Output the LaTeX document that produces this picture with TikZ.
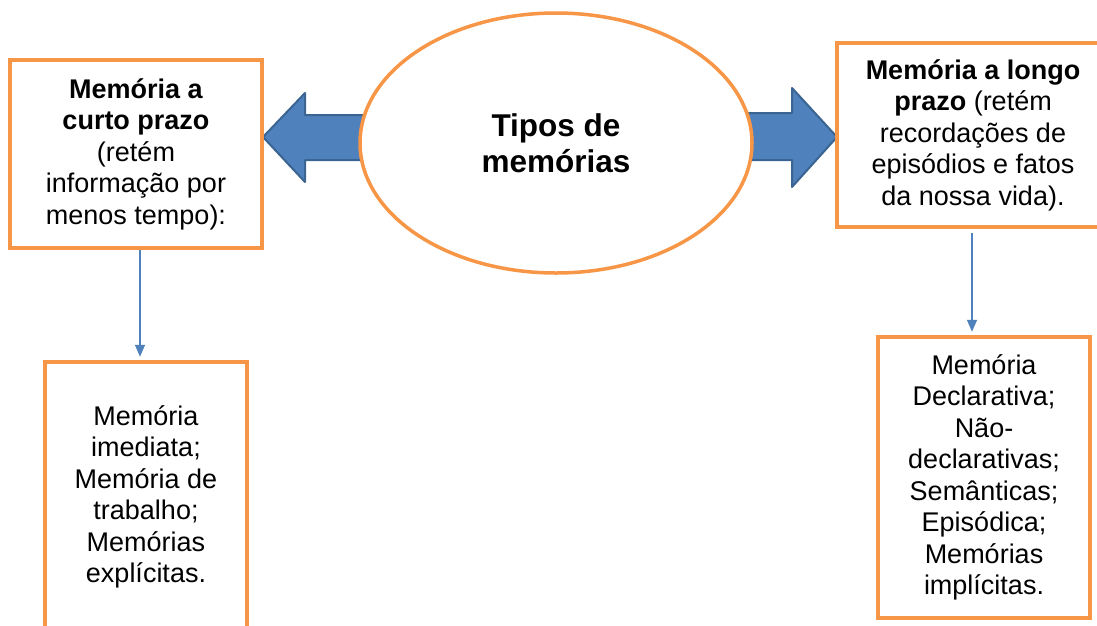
\documentclass[tikz,border=0pt]{standalone}
\usepackage{fontspec}
\setmainfont{Liberation Sans}
\usetikzlibrary{shapes.geometric,arrows.meta}
\definecolor{orng}{HTML}{F79646}
\definecolor{blu}{HTML}{4F81BD}
\definecolor{bludark}{HTML}{3A6491}
\begin{document}
\begin{tikzpicture}[x=1pt,y=-1pt,
  box/.style={draw=orng, line width=4.5pt, fill=white, align=center, inner sep=0pt,
    font=\fontsize{27}{31.5}\selectfont},
  bigarrow/.style={fill=blu, draw=bludark, line width=2pt, line join=round},
  thinarrow/.style={draw=blu, line width=1.5pt, -{Triangle[width=10pt,length=12pt]}}]
\useasboundingbox (0,0) rectangle (1097,625);
\fill[white] (0,0) rectangle (1097,625);
% block arrows
\draw[bigarrow] (263,137) -- (305,93) -- (305,115) -- (364,115) -- (364,160) -- (305,160) -- (305,182) -- cycle;
\draw[bigarrow] (837,137) -- (792,88) -- (792,113) -- (745,113) -- (745,160) -- (792,160) -- (792,187) -- cycle;
% centre
\node[ellipse, draw=orng, line width=3.5pt, fill=white, minimum width=392pt, minimum height=260pt,
  inner sep=0pt, align=center, font=\bfseries\fontsize{31.5}{36}\selectfont] (tipos) at (556,143) {Tipos de\\memórias};
% boxes
\node[box, minimum width=252pt, minimum height=188pt] (ltop) at (136,154)
  {\textbf{Memória a}\\\textbf{curto prazo}\\(retém\\informação por\\menos tempo):};
\node[box, minimum width=272pt, minimum height=184pt] (rtop) at (973,135)
  {\textbf{Memória a longo}\\\textbf{prazo} (retém\\recordações de\\episódios e fatos\\da nossa vida).};
\node[box, minimum width=202pt, minimum height=270pt] (lbot) at (146,497)
  {Memória\\imediata;\\Memória de\\trabalho;\\Memórias\\explícitas.};
\node[box, minimum width=212pt, minimum height=281pt] (rbot) at (984,477.5)
  {Memória\\Declarativa;\\Não-\\declarativas;\\Semânticas;\\Episódica;\\Memórias\\implícitas.};
% connectors
\draw[thinarrow, shorten >=3pt] ([xshift=4pt]ltop.south) -- ([xshift=4pt]ltop.south |- lbot.north);
\draw[thinarrow, shorten <=4pt, shorten >=3pt] ([xshift=-1pt]rtop.south) -- ([xshift=-1pt]rtop.south |- rbot.north);
\end{tikzpicture}
\end{document}
